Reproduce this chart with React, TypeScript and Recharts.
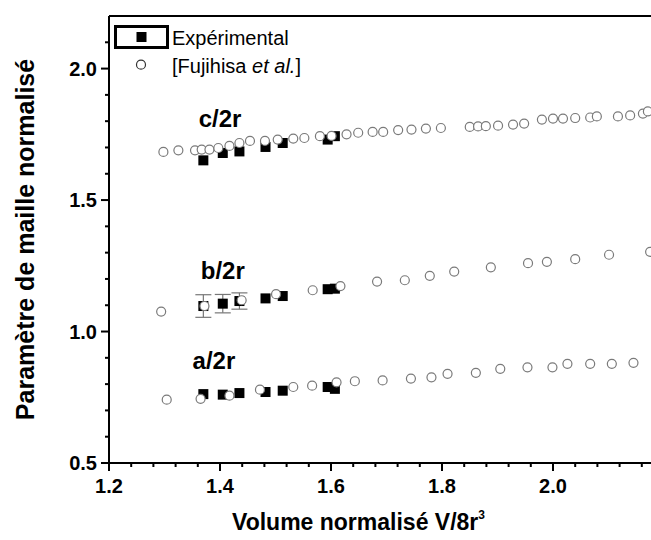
import {
  ErrorBar,
  Legend,
  ReferenceDot,
  ReferenceLine,
  Scatter,
  ScatterChart,
  XAxis,
  YAxis
} from "recharts";

const FONT = "'Liberation Sans', Arial, sans-serif";

// experimental points (same volumes for a, b, c)
const expX = [1.37, 1.405, 1.435, 1.482, 1.513, 1.594, 1.607];
const expC = [1.651, 1.679, 1.685, 1.702, 1.717, 1.73, 1.743];
const expB = [1.097, 1.106, 1.116, 1.126, 1.135, 1.161, 1.163];
const expBErr = [0.043, 0.035, 0.031, 0, 0, 0, 0];
const expA = [0.762, 0.76, 0.766, 0.77, 0.775, 0.789, 0.782];

// Fujihisa et al.
const fujiCX = [
  1.298, 1.325, 1.355, 1.367, 1.381, 1.397, 1.417, 1.435, 1.454, 1.481, 1.504,
  1.532, 1.552, 1.58, 1.601, 1.628, 1.649, 1.675, 1.694, 1.721, 1.745, 1.771,
  1.798, 1.85, 1.865, 1.879, 1.901, 1.928, 1.948, 1.98, 2.0, 2.018, 2.04,
  2.067, 2.079, 2.117, 2.139, 2.162, 2.171
];
const fujiCY = [
  1.683, 1.689, 1.689, 1.692, 1.692, 1.698, 1.706, 1.717, 1.725, 1.725, 1.73,
  1.734, 1.736, 1.743, 1.744, 1.75, 1.756, 1.759, 1.759, 1.766, 1.768, 1.772,
  1.774, 1.778, 1.78, 1.781, 1.783, 1.787, 1.791, 1.806, 1.81, 1.81, 1.812,
  1.814, 1.818, 1.818, 1.822, 1.829, 1.837
];
const fujiBX = [
  1.294, 1.372, 1.439, 1.501, 1.567, 1.617, 1.683, 1.733, 1.778, 1.822, 1.888,
  1.955, 1.989, 2.04, 2.101, 2.175
];
const fujiBY = [
  1.076, 1.097, 1.119, 1.142, 1.157, 1.173, 1.19, 1.195, 1.212, 1.228, 1.244,
  1.26, 1.265, 1.275, 1.292, 1.303
];
const fujiAX = [
  1.304, 1.365, 1.417, 1.472, 1.532, 1.566, 1.61, 1.643, 1.693, 1.744, 1.781,
  1.81, 1.861, 1.905, 1.954, 1.999, 2.026, 2.067, 2.106, 2.145
];
const fujiAY = [
  0.741, 0.744, 0.756, 0.779, 0.789, 0.794, 0.807, 0.811, 0.814, 0.821, 0.826,
  0.839, 0.843, 0.858, 0.864, 0.864, 0.877, 0.877, 0.877, 0.881
];

const xTicks = [
  1.2, 1.24, 1.28, 1.32, 1.36, 1.4, 1.44, 1.48, 1.52, 1.56, 1.6, 1.64, 1.68,
  1.72, 1.76, 1.8, 1.84, 1.88, 1.92, 1.96, 2.0, 2.04, 2.08, 2.12, 2.16
];
const xMajor = [1.2, 1.4, 1.6, 1.8, 2.0];
const yTicks = [
  0.5, 0.6, 0.7, 0.8, 0.9, 1.0, 1.1, 1.2, 1.3, 1.4, 1.5, 1.6, 1.7, 1.8, 1.9,
  2.0, 2.1
];
const yMajor = [0.5, 1.0, 1.5, 2.0];

const seriesLabels = [
  { name: "c/2r", x: 1.4, y: 1.81 },
  { name: "b/2r", x: 1.405, y: 1.234 },
  { name: "a/2r", x: 1.389, y: 0.892 }
];

const pts = (xs: number[], ys: number[]) => xs.map((x, i) => ({ x, y: ys[i] }));
const expBData = expX.map((x, i) => ({ x, y: expB[i], err: expBErr[i] || undefined }));

const Square = (p: any) => (
  <rect x={p.cx - 5} y={p.cy - 5} width={10} height={10} fill="#000" />
);
const OpenCircle = (p: any) => (
  <circle cx={p.cx} cy={p.cy} r={4.5} fill="#fff" stroke="#7a7a7a" strokeWidth={1.2} />
);

const XTick = (props: any) => {
  const { x, y, payload } = props;
  const major = xMajor.includes(payload.value);
  return (
    <g>
      <line x1={x} x2={x} y1={y} y2={y + (major ? 8 : 4)} stroke="#000" strokeWidth={2} />
      {major && (
        <text x={x} y={y + 30} textAnchor="middle" fontSize={20} fontWeight="bold" fontFamily={FONT} fill="#000">
          {payload.value.toFixed(1)}
        </text>
      )}
    </g>
  );
};

const YTick = (props: any) => {
  const { x, y, payload } = props;
  const major = yMajor.includes(payload.value);
  return (
    <g>
      <line x1={x} x2={x - (major ? 8 : 4)} y1={y} y2={y} stroke="#000" strokeWidth={2} />
      {major && (
        <text x={x - 12} y={y} dy="0.36em" textAnchor="end" fontSize={20} fontWeight="bold" fontFamily={FONT} fill="#000">
          {payload.value.toFixed(1)}
        </text>
      )}
    </g>
  );
};

const LegendBox = () => (
  <svg width={220} height={62} style={{ display: "block" }}>
    <rect x={7.5} y={8.5} width={52} height={21} fill="none" stroke="#000" strokeWidth={3} />
    <rect x={28.5} y={14} width={10} height={10} fill="#000" />
    <text x={64} y={26.5} fontSize={20} fontFamily={FONT} fill="#000">Expérimental</text>
    <circle cx={33} cy={46.7} r={4.5} fill="#fff" stroke="#333" strokeWidth={1.2} />
    <text x={64} y={54.5} fontSize={20} fontFamily={FONT} fill="#000">
      [Fujihisa <tspan fontStyle="italic">et al.</tspan>]
    </text>
  </svg>
);

export default function App() {
  return (
    <div style={{ position: "fixed", left: 0, top: 0, width: 651, height: 540, overflow: "hidden", background: "#fff" }}>
      <ScatterChart width={680} height={540} margin={{ top: 16, right: 16, bottom: 0, left: 0 }}>
        <XAxis
          type="number"
          dataKey="x"
          domain={[1.2, 2.2]}
          ticks={xTicks}
          interval={0}
          tick={<XTick />}
          tickLine={false}
          tickSize={0}
          tickMargin={0}
          height={77}
          axisLine={{ stroke: "#000", strokeWidth: 2 }}
          allowDataOverflow
          label={{
            content: (p: any) => {
              const vb = p.viewBox;
              const cx = vb.x + vb.width / 2 - 28;
              return (
                <text x={cx} y={vb.y + 67} textAnchor="middle" fontSize={23} fontWeight="bold" fontFamily={FONT} fill="#000">
                  Volume normalisé V/8r<tspan dy={-11} fontSize={12}>3</tspan>
                </text>
              );
            }
          }}
        />
        <YAxis
          type="number"
          dataKey="y"
          domain={[0.5, 2.2]}
          ticks={yTicks}
          interval={0}
          tick={<YTick />}
          tickLine={false}
          tickSize={0}
          tickMargin={0}
          width={109}
          axisLine={{ stroke: "#000", strokeWidth: 2 }}
          allowDataOverflow
          label={{
            content: (p: any) => {
              const vb = p.viewBox;
              const cx = vb.x + 25;
              const cy = vb.y + vb.height / 2;
              return (
                <text x={cx} y={cy} transform={`rotate(-90 ${cx} ${cy})`} dy="0.36em" textAnchor="middle" fontSize={25} fontWeight="bold" fontFamily={FONT} fill="#000">
                  Paramètre de maille normalisé
                </text>
              );
            }
          }}
        />
        <ReferenceLine y={2.2} stroke="#000" strokeWidth={2} />
        <ReferenceLine x={2.2} stroke="#000" strokeWidth={2} />
        <Legend
          layout="vertical"
          align="center"
          verticalAlign="middle"
          wrapperStyle={{ left: 108, top: 18, width: 220, height: 62 }}
          content={() => <LegendBox />}
        />
        <Scatter name="Expérimental" data={pts(expX, expC)} shape={Square} isAnimationActive={false} />
        <Scatter name="Expérimental b" data={expBData} shape={Square} isAnimationActive={false}>
          <ErrorBar dataKey="err" direction="y" width={8} stroke="#777" strokeWidth={1.2} />
        </Scatter>
        <Scatter name="Expérimental a" data={pts(expX, expA)} shape={Square} isAnimationActive={false} />
        <Scatter name="Fujihisa c" data={pts(fujiCX, fujiCY)} shape={OpenCircle} isAnimationActive={false} />
        <Scatter name="Fujihisa b" data={pts(fujiBX, fujiBY)} shape={OpenCircle} isAnimationActive={false} />
        <Scatter name="Fujihisa a" data={pts(fujiAX, fujiAY)} shape={OpenCircle} isAnimationActive={false} />
        {seriesLabels.map((s) => (
          <ReferenceDot
            key={s.name}
            x={s.x}
            y={s.y}
            r={0}
            shape={(p: any) => (
              <text x={p.cx} y={p.cy} dy="0.36em" textAnchor="middle" fontSize={24} fontWeight="bold" fontFamily={FONT} fill="#000">
                {s.name}
              </text>
            )}
          />
        ))}
      </ScatterChart>
    </div>
  );
}
